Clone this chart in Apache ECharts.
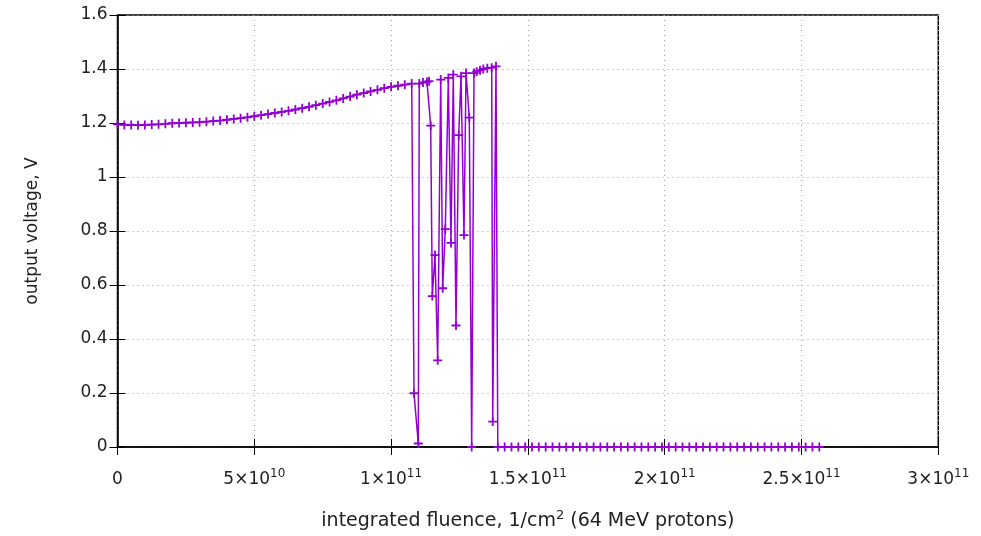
<!DOCTYPE html>
<html><head><meta charset="utf-8">
<script src="https://cdn.jsdelivr.net/npm/echarts@6/dist/echarts.min.js"></script>
<style>html,body{margin:0;padding:0;background:#fff}#c{width:981px;height:536px}</style>
</head><body><div id="c"></div>
<script>
// fluence (1/cm^2) and output voltage (V)
const smoothX = [0,2.5e9,5e9,7.5e9,10e9,12.5e9,15e9,17.5e9,20e9,22.5e9,25e9,27.5e9,30e9,32.5e9,35e9,37.5e9,40e9,42.5e9,45e9,47.5e9,50e9,52.5e9,55e9,57.5e9,60e9,62.5e9,65e9,67.5e9,70e9,72.5e9,75e9,77.5e9,80e9,82.5e9,85e9,87.5e9,90e9,92.5e9,95e9,97.5e9,100e9,102.5e9,105e9];
const smoothV = [1.195,1.193,1.193,1.192,1.193,1.194,1.195,1.197,1.199,1.200,1.201,1.202,1.203,1.205,1.207,1.209,1.212,1.215,1.218,1.221,1.225,1.229,1.233,1.237,1.241,1.245,1.250,1.255,1.260,1.266,1.272,1.278,1.284,1.291,1.298,1.305,1.311,1.317,1.323,1.329,1.334,1.338,1.342];
const burstX = [1.0753e11,1.0837e11,1.0994e11,1.103e11,1.1166e11,1.1312e11,1.1385e11,1.1447e11,1.1506e11,1.1604e11,1.1703e11,1.1813e11,1.1886e11,1.1981e11,1.2091e11,1.2189e11,1.2273e11,1.2372e11,1.2471e11,1.2555e11,1.2664e11,1.2738e11,1.2858e11,1.2946e11,1.303e11,1.3129e11,1.325e11,1.337e11,1.3516e11,1.3677e11,1.3714e11,1.3834e11];
const burstV = [1.346,0.199,0.013,1.346,1.350,1.352,1.355,1.190,0.559,0.711,0.321,1.361,0.588,0.807,1.367,0.756,1.379,0.450,1.155,1.373,0.785,1.385,1.220,0.0,1.385,1.390,1.395,1.400,1.403,1.405,0.094,1.410];
const zeroX = [1.39e11,1.415e11,1.44e11,1.465e11,1.49e11,1.515e11,1.54e11,1.565e11,1.59e11,1.615e11,1.64e11,1.665e11,1.69e11,1.715e11,1.74e11,1.765e11,1.79e11,1.815e11,1.84e11,1.865e11,1.89e11,1.915e11,1.94e11,1.965e11,1.99e11,2.015e11,2.04e11,2.065e11,2.09e11,2.115e11,2.14e11,2.165e11,2.19e11,2.215e11,2.24e11,2.265e11,2.29e11,2.315e11,2.34e11,2.365e11,2.39e11,2.415e11,2.44e11,2.465e11,2.49e11,2.515e11,2.54e11,2.565e11];
const zeroV = zeroX.map(() => 0);
const xTickValues = [0,5e10,1e11,1.5e11,2e11,2.5e11,3e11];
const xTickLabels = ['0{s|\u200b}','5×10{s|10}','1×10{s|11}','1.5×10{s|11}','2×10{s|11}','2.5×10{s|11}','3×10{s|11}'];
const yTickLabels = ['0','0.2','0.4','0.6','0.8','1','1.2','1.4','1.6'];

const allX = smoothX.concat(burstX, zeroX);
const allV = smoothV.concat(burstV, zeroV);
const data = allX.map((x,i)=>[x, allV[i]]);

const font = 'DejaVu Sans';
const purple = '#9400D3';
const txt = '#222';
const gridLine = {show:true, lineStyle:{color:'#a0a0a0', type:[1,4], width:1}};
const supStyle = {fontSize:12, padding:[0,0,11,0], fontFamily:font, color:txt};
const supStyle2 = {fontSize:13, padding:[0,0,12,0], fontFamily:font, color:txt};
const chart = echarts.init(document.getElementById('c'), null, {renderer:'canvas'});
chart.setOption({
  animation:false,
  grid:{left:117.5, right:42.7, top:15, bottom:86, show:true, borderColor:'#000', borderWidth:1.5},
  xAxis:[{
    type:'value', min:0, max:3e11, interval:5e10,
    axisLine:{show:true, lineStyle:{color:'#000', width:1.5}},
    axisTick:{show:true, inside:true, length:8, lineStyle:{color:'#000'}},
    splitLine:gridLine,
    axisLabel:{margin:21, color:txt, fontFamily:font, fontSize:17,
      formatter:(v)=>{const i=xTickValues.findIndex(t=>Math.abs(t-v)<1); return i>=0?xTickLabels[i]:'';},
      rich:{s:supStyle}},
    name:'integrated fluence, 1/cm{s|2} (64 MeV protons)', nameLocation:'middle', nameGap:62,
    nameTextStyle:{color:txt, fontFamily:font, fontSize:19, rich:{s:supStyle2}}
  },{
    type:'value', min:0, max:3e11, interval:5e10, position:'top',
    axisLine:{show:false}, axisTick:{show:true, inside:true, length:8, lineStyle:{color:'#000'}},
    axisLabel:{show:false}, splitLine:{show:false}
  }],
  yAxis:[{
    type:'value', min:0, max:1.6, interval:0.2,
    axisLine:{show:true, lineStyle:{color:'#000', width:1.5}},
    axisTick:{show:true, inside:true, length:8, lineStyle:{color:'#000'}},
    splitLine:gridLine,
    axisLabel:{margin:10, color:txt, fontFamily:font, fontSize:17,
      formatter:(v)=>yTickLabels[Math.round(v/0.2)]},
    name:'output voltage, V', nameLocation:'middle', nameGap:76, nameRotate:90,
    nameTextStyle:{color:txt, fontFamily:font, fontSize:17}
  },{
    type:'value', min:0, max:1.6, interval:0.2, position:'right',
    axisLine:{show:false}, axisTick:{show:true, inside:true, length:8, lineStyle:{color:'#000'}},
    axisLabel:{show:false}, splitLine:{show:false}
  }],
  series:[{
    type:'line', data:data, xAxisIndex:0, yAxisIndex:0,
    symbol:'path://M4,0h2v4h4v2h-4v4h-2v-4h-4v-2h4z', symbolSize:9, showAllSymbol:true,
    itemStyle:{color:purple},
    lineStyle:{color:purple, width:1.5}
  }]
});
</script></body></html>
